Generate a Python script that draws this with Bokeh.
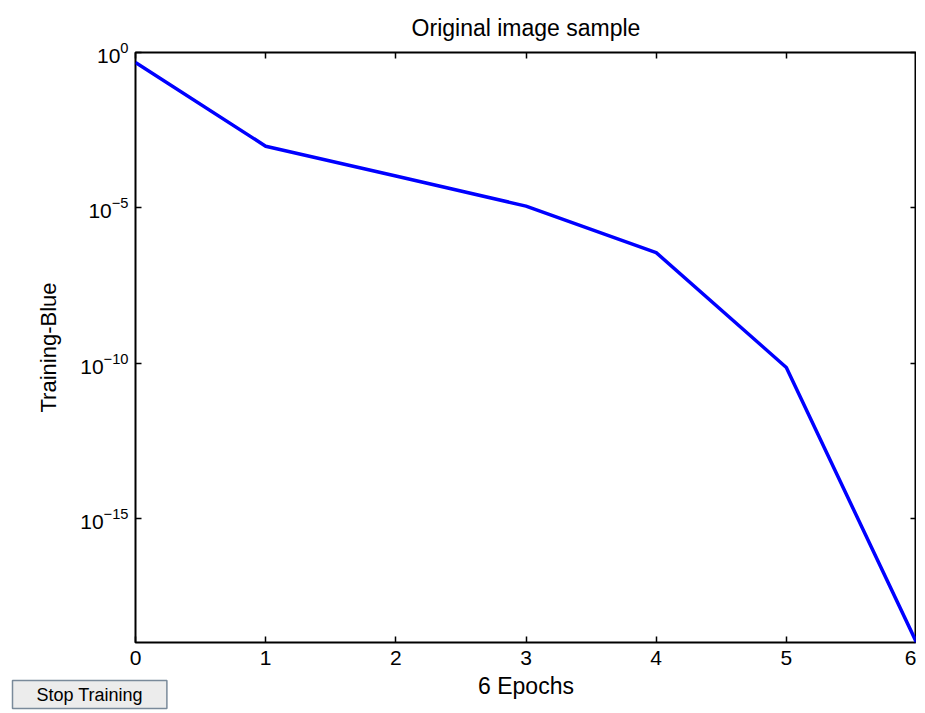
from bokeh.plotting import figure
from bokeh.models import Range1d, FixedTicker, LogAxis, LinearAxis, Label, LogTickFormatter
from bokeh.embed import file_html
from bokeh.resources import INLINE

# ---- data ----
epochs = [0, 1, 2, 3, 4, 5, 6]
performance = [0.48, 9.6e-4, 1.05e-4, 1.13e-5, 3.6e-7, 7.2e-11, 1.0e-19]
x_ticks = [0, 1, 2, 3, 4, 5, 6]
y_ticks = [1e0, 1e-5, 1e-10, 1e-15]
title_text = "Original image sample"
x_label = "6 Epochs"
y_label = "Training-Blue"
button_text = "Stop Training"

FONT = "Liberation Sans"
FS = "21px"

p = figure(
    frame_width=781, frame_height=590,
    y_axis_type="log",
    x_range=Range1d(0, 6), y_range=Range1d(1e-19, 1),
    output_backend="svg", toolbar_location=None,
    min_border_left=135, min_border_right=0,
    min_border_top=51, min_border_bottom=64,
    background_fill_color="white", border_fill_color="white",
)
p.title.text = title_text
p.title.align = "center"
p.title.text_font = FONT
p.title.text_font_size = "23px"
p.title.text_font_style = "normal"
p.title.text_color = "black"
p.title.standoff = 24

p.grid.visible = False
p.outline_line_color = "black"
p.outline_line_width = 2
p.outline_line_alpha = 1

p.line(epochs, performance, line_color="#0000FF", line_width=3.5)

def style(ax, labels=True):
    ax.axis_line_color = None
    ax.major_tick_in = 6
    ax.major_tick_out = 0
    ax.major_tick_line_color = "black"
    ax.major_tick_line_width = 1.5
    ax.minor_tick_line_color = None
    ax.major_label_text_font = FONT
    ax.axis_label_text_font = FONT
    ax.axis_label_text_font_style = "normal"
    ax.axis_label_text_color = "black"
    if labels:
        ax.major_label_text_font_size = FS
        ax.major_label_text_color = "black"
    else:
        ax.major_label_text_font_size = "1px"
        ax.major_label_text_color = None
        ax.major_label_standoff = 0

xa = p.xaxis[0]
xa.ticker = FixedTicker(ticks=x_ticks)
xa.axis_label = x_label
xa.major_label_standoff = 8
xa.axis_label_standoff = 5
style(xa)
xa.axis_label_text_font_size = "23px"

ya = p.yaxis[0]
ya.ticker = FixedTicker(ticks=y_ticks)
ya.formatter = LogTickFormatter()
ya.axis_label = y_label
ya.major_label_standoff = 7
ya.axis_label_standoff = 16
style(ya)
ya.axis_label_text_font_size = "22px"

top = LinearAxis(ticker=FixedTicker(ticks=x_ticks))
style(top, labels=False)
p.add_layout(top, "above")

right = LogAxis(ticker=FixedTicker(ticks=y_ticks))
style(right, labels=False)
p.add_layout(right, "right")

btn = Label(
    x=-123, y=21, x_units="screen", y_units="screen",
    text=button_text, text_font=FONT, text_font_size="18px", text_color="black",
    background_fill_color="#ECECEC", border_line_color="#7A8A9A", border_line_width=1.5,
    padding=(24, 4),
)
p.add_layout(btn, "below")

open("out.html", "w").write(file_html(p, INLINE))
